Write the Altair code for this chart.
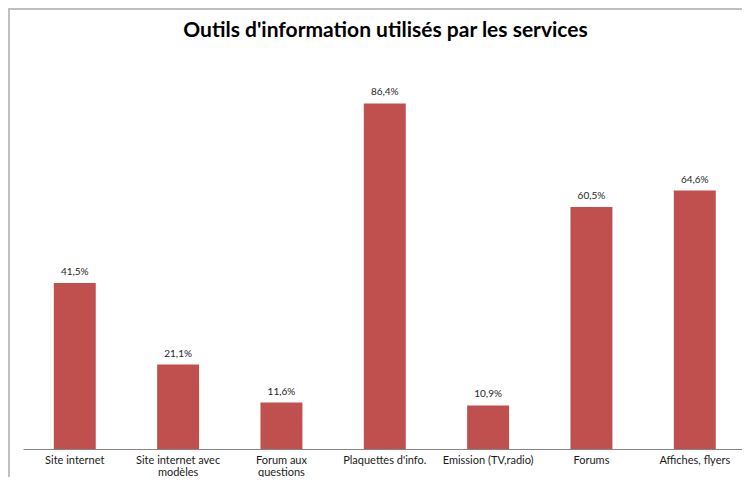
import altair as alt
import pandas as pd

categories = ["Site internet", "Site internet avec\nmodèles", "Forum aux\nquestions",
              "Plaquettes d'info.", "Emission (TV,radio)", "Forums", "Affiches, flyers"]
values = [41.5, 21.1, 11.6, 86.4, 10.9, 60.5, 64.6]
labels = ["41,5%", "21,1%", "11,6%", "86,4%", "10,9%", "60,5%", "64,6%"]

df = pd.DataFrame({"cat": categories, "val": values, "lab": labels})

W, H = 719, 400
TOP = 41
FONT = "Lato"

x_enc = alt.X("cat:N", sort=categories, title=None,
              scale=alt.Scale(paddingInner=0.594, paddingOuter=0.276, align=0.54),
              axis=alt.Axis(labelAngle=0, ticks=False, domainColor="#868686", domainWidth=1.2,
                            labelFont=FONT, labelFontSize=11, labelColor="#1a1a1a",
                            labelPadding=5, labelExpr="split(datum.label, '\\n')",
                            labelLineHeight=12, labelLimit=0))
y_enc = alt.Y("val:Q", scale=alt.Scale(domain=[0, 100], nice=False), axis=None, title=None)

bars = alt.Chart(df).mark_bar(color="#C0504D").encode(x=x_enc, y=y_enc)
text = alt.Chart(df).mark_text(baseline="bottom", dy=-6, font=FONT, fontSize=10, color="#262626").encode(
    x=alt.X("cat:N", sort=categories), y="val:Q", text="lab:N")

frame_v = alt.Chart(df).mark_rule(color="#BFBFBF", strokeWidth=1.5).encode(
    x=alt.value(-14.25), y=alt.value(-TOP + 0.75), y2=alt.value(H + 40))
frame_h = alt.Chart(df).mark_rule(color="#BFBFBF", strokeWidth=1.5).encode(
    x=alt.value(-14.25), x2=alt.value(W), y=alt.value(-TOP + 0.75))

chart = alt.layer(frame_v, frame_h, bars, text).properties(
    width=W, height=H,
    title=alt.TitleParams("Outils d'information utilisés par les services", font=FONT,
                          fontSize=21, fontWeight="bold", color="#000000", anchor="middle",
                          frame="group", offset=-33, dx=3),
    autosize=alt.AutoSizeParams(type="none"),
    padding={"left": 15, "top": TOP, "right": 0, "bottom": 28},
).configure_view(stroke=None)

chart.save("out.html", embed_options={"renderer": "svg", "actions": False})
